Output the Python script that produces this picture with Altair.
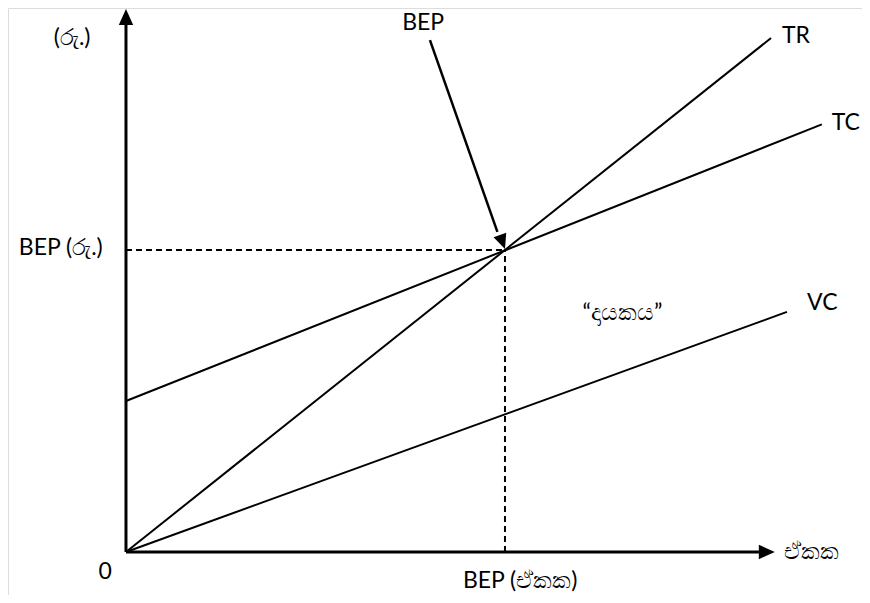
import altair as alt
import pandas as pd

# ---- data (units: BEP quantity = 100, BEP revenue = 100) ----
series_names = ["TR", "TC", "VC"]
tr_x = [0, 170.2]
tr_y = [0, 170.2]
tc_x = [0, 183.6]
tc_y = [50, 141.6]
vc_x = [0, 174.4]
vc_y = [0, 79.5]
bep_q = 100
bep_r = 100

label_text = ["TR", "TC", "VC"]
label_x = [173.1, 186.2, 179.7]
label_y = [170.9, 142.0, 82.5]

XD = [-31.13, 194.2]
YD = [-14.24, 180.13]
W, H = 854, 587

xs = alt.Scale(domain=XD, nice=False, zero=False)
ys = alt.Scale(domain=YD, nice=False, zero=False)


def X(field="x"):
    return alt.X(f"{field}:Q", scale=xs, axis=None)


def Y(field="y"):
    return alt.Y(f"{field}:Q", scale=ys, axis=None)


rows = []
for name, xx, yy in [("TR", tr_x, tr_y), ("TC", tc_x, tc_y), ("VC", vc_x, vc_y)]:
    for a, b in zip(xx, yy):
        rows.append({"s": name, "x": a, "y": b})
lines_df = pd.DataFrame(rows)

lines = alt.Chart(lines_df).mark_line(color="black", strokeWidth=2).encode(
    x=X(), y=Y(), detail="s:N"
)

# axes
axes_df = pd.DataFrame([
    {"s": "yaxis", "x": 0, "y": 0}, {"s": "yaxis", "x": 0, "y": 175},
    {"s": "xaxis", "x": 0, "y": 0}, {"s": "xaxis", "x": 167, "y": 0},
])
axes = alt.Chart(axes_df).mark_line(color="black", strokeWidth=3).encode(
    x=X(), y=Y(), detail="s:N"
)

HEAD = "M0,0L-0.45,1L0.45,1Z"
heads_df = pd.DataFrame([
    {"x": 0, "y": 179.8, "a": 0},
    {"x": 171.2, "y": 0, "a": 90},
])
heads = alt.Chart(heads_df).mark_point(
    shape=HEAD, filled=True, color="black", opacity=1, size=1024, strokeWidth=0
).encode(x=X(), y=Y(), angle=alt.Angle("a:Q", scale=None))

# dashed guides
dash_df = pd.DataFrame([
    {"s": "h", "x": 0, "y": bep_r}, {"s": "h", "x": bep_q, "y": bep_r},
    {"s": "v", "x": bep_q, "y": 0}, {"s": "v", "x": bep_q, "y": bep_r},
])
dashes = alt.Chart(dash_df).mark_line(color="black", strokeWidth=2, strokeDash=[6, 4]).encode(
    x=X(), y=Y(), detail="s:N"
)

# BEP pointer arrow
arrow_df = pd.DataFrame([{"x": 80.2, "y": 169.5}, {"x": 98.0, "y": 106}])
arrow = alt.Chart(arrow_df).mark_line(color="black", strokeWidth=2.5).encode(x=X(), y=Y())
arrow_head = alt.Chart(pd.DataFrame([{"x": bep_q, "y": 100.3, "a": 160.2}])).mark_point(
    shape=HEAD, filled=True, color="black", opacity=1, size=900, strokeWidth=0
).encode(x=X(), y=Y(), angle=alt.Angle("a:Q", scale=None))

FONT = "Lato"
FS = 23

series_labels = alt.Chart(pd.DataFrame({"t": label_text, "x": label_x, "y": label_y})).mark_text(
    align="left", baseline="middle", font=FONT, fontSize=FS, color="black"
).encode(x=X(), y=Y(), text="t:N")

ann_df = pd.DataFrame([
    {"t": "(රු.)", "x": -14.2, "y": 170.2},
    {"t": "BEP (රු.)", "x": -17.2, "y": 100.5},
    {"t": "BEP", "x": 78.4, "y": 175.0},
    {"t": "“දායකය”", "x": 131, "y": 79},
    {"t": "0", "x": -5.5, "y": -6.6},
    {"t": "BEP (ඒකක)", "x": 104, "y": -9.6},
])
ann = alt.Chart(ann_df).mark_text(
    align="center", baseline="middle", font=FONT, fontSize=FS, color="black"
).encode(x=X(), y=Y(), text="t:N")

unit_lbl = alt.Chart(pd.DataFrame([{"t": "ඒකක", "x": 173.5, "y": 0}])).mark_text(
    align="left", baseline="middle", font=FONT, fontSize=FS, color="black"
).encode(x=X(), y=Y(), text="t:N")

chart = alt.layer(
    dashes, lines, axes, heads, arrow, arrow_head, series_labels, ann, unit_lbl
).properties(
    width=W, height=H, padding=0, autosize=alt.AutoSizeParams(type="none")
).configure_view(stroke="transparent", strokeWidth=0).configure(background="white")

chart.save("out.html", embed_options={"renderer": "svg", "actions": False})
